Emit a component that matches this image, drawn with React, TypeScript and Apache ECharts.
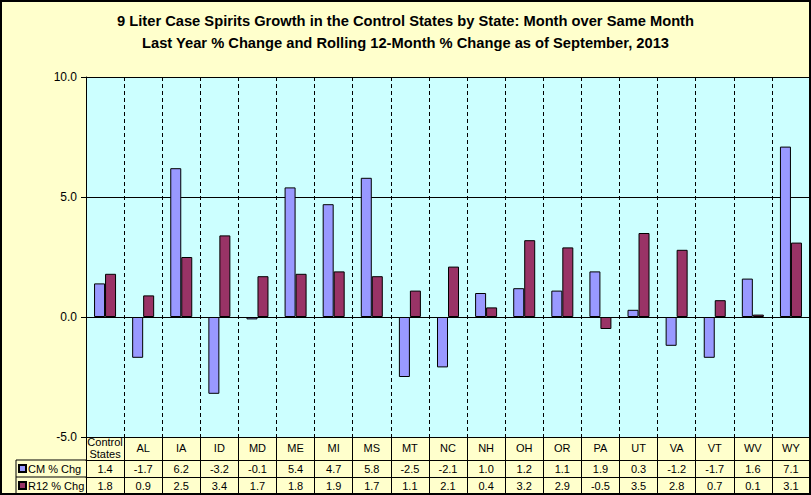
import React, { useEffect, useRef } from "react";
import * as echarts from "echarts";

const categories = ["Control\nStates", "AL", "IA", "ID", "MD", "ME", "MI", "MS", "MT", "NC", "NH", "OH", "OR", "PA", "UT", "VA", "VT", "WV", "WY"];
const cmChg = [1.4, -1.7, 6.2, -3.2, -0.1, 5.4, 4.7, 5.8, -2.5, -2.1, 1.0, 1.2, 1.1, 1.9, 0.3, -1.2, -1.7, 1.6, 7.1];
const r12Chg = [1.8, 0.9, 2.5, 3.4, 1.7, 1.8, 1.9, 1.7, 1.1, 2.1, 0.4, 3.2, 2.9, -0.5, 3.5, 2.8, 0.7, 0.1, 3.1];
const seriesNames = ["CM % Chg", "R12 % Chg"];
const titleLines = [
  "9 Liter Case Spirits Growth in the Control States by State: Month over Same Month",
  "Last Year % Change and Rolling 12-Month % Change as of September, 2013",
];

const FONT = "Liberation Sans, Arial, sans-serif";

export default function App() {
  const ref = useRef<HTMLDivElement>(null);
  useEffect(() => {
    const chart = echarts.init(ref.current!, null, { renderer: "svg" });
    const gridLeft = 86;
    const gridRight = 1;
    const gridTop = 77;
    const gridBottomY = 437;
    const row1 = 460;
    const row2 = 477;
    const row3 = 494;
    const tableLeft = 16;
    const W = 811;
    const H = 495;
    const baseAxis = {
      type: "category",
      data: categories,
      position: "bottom",
      axisLine: { show: true, onZero: false, lineStyle: { color: "#000", width: 1 } },
      axisTick: { show: true, alignWithLabel: false, inside: false, lineStyle: { color: "#000" } },
      splitLine: { show: false },
    };
    const legendBase = {
      orient: "horizontal",
      left: tableLeft + 2,
      itemWidth: 7,
      itemHeight: 7,
      padding: 0,
      icon: "rect",
      textStyle: { fontFamily: FONT, fontSize: 11, color: "#000", padding: [0, 0, 0, -3] },
    };
    chart.setOption({
      animation: false,
      backgroundColor: "#FFFFCC",
      textStyle: { fontFamily: FONT },
      title: {
        text: titleLines.join("\n"),
        left: "center",
        top: 5,
        textStyle: { fontFamily: FONT, fontSize: 14.7, fontWeight: "bold", color: "#000", lineHeight: 22 },
      },
      legend: [
        { ...legendBase, top: row1 + 3, data: [seriesNames[0]] },
        { ...legendBase, top: row2 + 3, data: [seriesNames[1]] },
      ],
      grid: { left: gridLeft, right: gridRight, top: gridTop, bottom: H - gridBottomY, backgroundColor: "#CCFFFF", show: true, borderWidth: 0 },
      xAxis: [
        {
          ...baseAxis,
          axisTick: { ...baseAxis.axisTick, length: row1 - gridBottomY },
          axisLabel: { fontFamily: FONT, fontSize: 11, color: "#000", margin: 11, verticalAlign: "middle", lineHeight: 12, interval: 0 },
          splitLine: { show: true, lineStyle: { color: "#000", type: [4, 3], width: 1 } },
        },
        {
          ...baseAxis,
          offset: row1 - gridBottomY,
          axisTick: { ...baseAxis.axisTick, length: row2 - row1 },
          axisLabel: { fontFamily: FONT, fontSize: 11, color: "#000", margin: 9, verticalAlign: "middle", interval: 0, formatter: (_v: string, i: number) => cmChg[i].toFixed(1) },
        },
        {
          ...baseAxis,
          offset: row2 - gridBottomY,
          axisTick: { ...baseAxis.axisTick, length: row3 - row2 },
          axisLabel: { fontFamily: FONT, fontSize: 11, color: "#000", margin: 9, verticalAlign: "middle", interval: 0, formatter: (_v: string, i: number) => r12Chg[i].toFixed(1) },
        },
      ],
      yAxis: {
        type: "value",
        min: -5,
        max: 10,
        interval: 5,
        axisLine: { show: true, lineStyle: { color: "#000" } },
        axisTick: { show: true, length: 5, lineStyle: { color: "#000" } },
        axisLabel: { fontFamily: FONT, fontSize: 12, color: "#000", margin: 9, formatter: (v: number) => v.toFixed(1) },
        splitLine: { show: true, lineStyle: { color: "#000", width: 1 } },
      },
      series: [
        {
          name: seriesNames[0],
          type: "bar",
          data: cmChg,
          barWidth: 11,
          barGap: "0%",
          itemStyle: { color: "#9999FF", borderColor: "#000", borderWidth: 1 },
        },
        {
          name: seriesNames[1],
          type: "bar",
          data: r12Chg,
          barWidth: 11,
          barGap: "0%",
          itemStyle: { color: "#993366", borderColor: "#000", borderWidth: 1 },
        },
      ],
      graphic: [
        { type: "line", shape: { x1: tableLeft, y1: row1, x2: gridLeft, y2: row1 }, style: { stroke: "#000", lineWidth: 1 } },
        { type: "line", shape: { x1: tableLeft, y1: row2, x2: gridLeft, y2: row2 }, style: { stroke: "#000", lineWidth: 1 } },
        { type: "line", shape: { x1: tableLeft, y1: row3, x2: W, y2: row3 }, style: { stroke: "#000", lineWidth: 1 } },
        { type: "line", shape: { x1: tableLeft, y1: row1, x2: tableLeft, y2: row3 }, style: { stroke: "#000", lineWidth: 1 } },
        { type: "rect", shape: { x: 1, y: 1, width: W - 2, height: H - 2 }, style: { fill: "none", stroke: "#000", lineWidth: 2 }, z: 100 },
      ],
    });
    return () => chart.dispose();
  }, []);
  return <div ref={ref} style={{ position: "fixed", left: 0, top: 0, width: 811, height: 495 }} />;
}
